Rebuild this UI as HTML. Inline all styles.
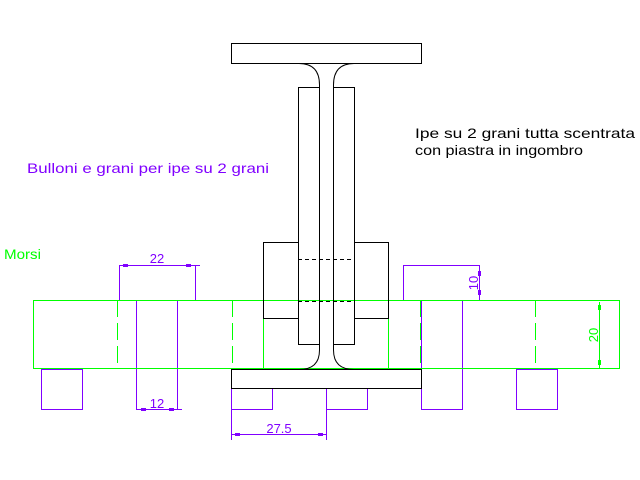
<!DOCTYPE html>
<html><head><meta charset="utf-8"><style>html,body{margin:0;padding:0;background:#fff}svg{display:block}text{font-family:"Liberation Sans",sans-serif}</style></head>
<body>
<svg width="640" height="480" viewBox="0 0 640 480" xmlns="http://www.w3.org/2000/svg">
<g fill="none" stroke-width="1" shape-rendering="crispEdges">
<!-- purple bolts -->
<g stroke="#8000ff">
<polyline points="119.5,300 119.5,265.5 195.5,265.5 195.5,300"/>
<polyline points="403.5,300 403.5,265.5 479.5,265.5 479.5,300"/>
<rect x="136.5" y="300.5" width="41" height="109"/>
<rect x="421.5" y="300.5" width="41" height="109"/>
<rect x="41.5" y="369.5" width="41" height="40"/>
<rect x="516.5" y="369.5" width="41" height="40"/>
<rect x="231.5" y="388.5" width="41" height="21"/>
<rect x="326.5" y="388.5" width="41" height="21"/>
<line x1="195" y1="265.5" x2="200" y2="265.5"/>
<line x1="177" y1="409.5" x2="182" y2="409.5"/>
<line x1="479.5" y1="265" x2="479.5" y2="300"/>
<line x1="231.5" y1="388" x2="231.5" y2="440"/>
<line x1="326.5" y1="388" x2="326.5" y2="440"/>
<line x1="231" y1="434.5" x2="327" y2="434.5"/>
</g>
<!-- green bar -->
<g stroke="#00ff00">
<rect x="33.5" y="300.5" width="586" height="68"/>
<line x1="117.5" y1="300" x2="117.5" y2="369" stroke-dasharray="17,6"/>
<line x1="232.5" y1="300" x2="232.5" y2="369" stroke-dasharray="17,6"/>
<line x1="263.5" y1="318" x2="263.5" y2="369"/>
<line x1="388.5" y1="318" x2="388.5" y2="369"/>
<line x1="420.5" y1="300" x2="420.5" y2="369" stroke-dasharray="17,6"/>
<line x1="535.5" y1="300" x2="535.5" y2="369" stroke-dasharray="17,6"/>
<line x1="599.5" y1="302" x2="599.5" y2="368"/>
</g>
<g fill="#8000ff" stroke="none">
<rect x="123" y="264" width="5" height="3"/><rect x="186" y="264" width="5" height="3"/>
<rect x="141" y="408" width="5" height="3"/><rect x="169" y="408" width="5" height="3"/>
<rect x="235" y="433" width="5" height="3"/><rect x="318" y="433" width="5" height="3"/>
<rect x="478" y="271" width="3" height="5"/><rect x="478" y="290" width="3" height="5"/>
</g>
<g fill="#00ff00" stroke="none">
<rect x="598" y="305" width="3" height="5"/><rect x="598" y="360" width="3" height="5"/>
</g>
<!-- black IPE -->
<g stroke="#000">
<rect x="231.5" y="43.5" width="190" height="20"/>
<rect x="231.5" y="369.5" width="190" height="19"/>
<rect x="298.5" y="87.5" width="21" height="257"/>
<rect x="333.5" y="87.5" width="21" height="257"/>
<rect x="263.5" y="242.5" width="35" height="76"/>
<rect x="354.5" y="242.5" width="34" height="76"/>
<line x1="298" y1="259.5" x2="354" y2="259.5" stroke-dasharray="4,3"/>
<line x1="298" y1="301.5" x2="354" y2="301.5" stroke-dasharray="4,3"/>
</g>
</g>
<g fill="none" stroke="#000">
<path d="M299,63.5 Q319.5,63.5 319.5,85 L319.5,88"/>
<path d="M354,63.5 Q333.5,63.5 333.5,85 L333.5,88"/>
<path d="M319.5,344 L319.5,350 Q319.5,369.5 299,369.5"/>
<path d="M333.5,344 L333.5,350 Q333.5,369.5 354,369.5"/>
</g>
<!-- texts -->
<text x="4" y="259" font-size="14" fill="#00ff00" textLength="37" lengthAdjust="spacingAndGlyphs">Morsi</text>
<text x="27" y="173" font-size="14" fill="#8000ff" textLength="242" lengthAdjust="spacingAndGlyphs">Bulloni e grani per ipe su 2 grani</text>
<text x="415" y="138" font-size="14" fill="#000" textLength="220" lengthAdjust="spacingAndGlyphs">Ipe su 2 grani tutta scentrata</text>
<text x="415" y="155" font-size="14" fill="#000" textLength="168" lengthAdjust="spacingAndGlyphs">con piastra in ingombro</text>
<text x="157" y="263" font-size="13" fill="#8000ff" text-anchor="middle">22</text>
<text x="157" y="408" font-size="13" fill="#8000ff" text-anchor="middle">12</text>
<text x="279" y="433" font-size="13" fill="#8000ff" text-anchor="middle">27.5</text>
<text x="0" y="0" font-size="13" fill="#8000ff" text-anchor="middle" transform="translate(478,283) rotate(-90)">10</text>
<text x="0" y="0" font-size="13" fill="#00ff00" text-anchor="middle" transform="translate(598,335) rotate(-90)">20</text>
</svg>
</body></html>
